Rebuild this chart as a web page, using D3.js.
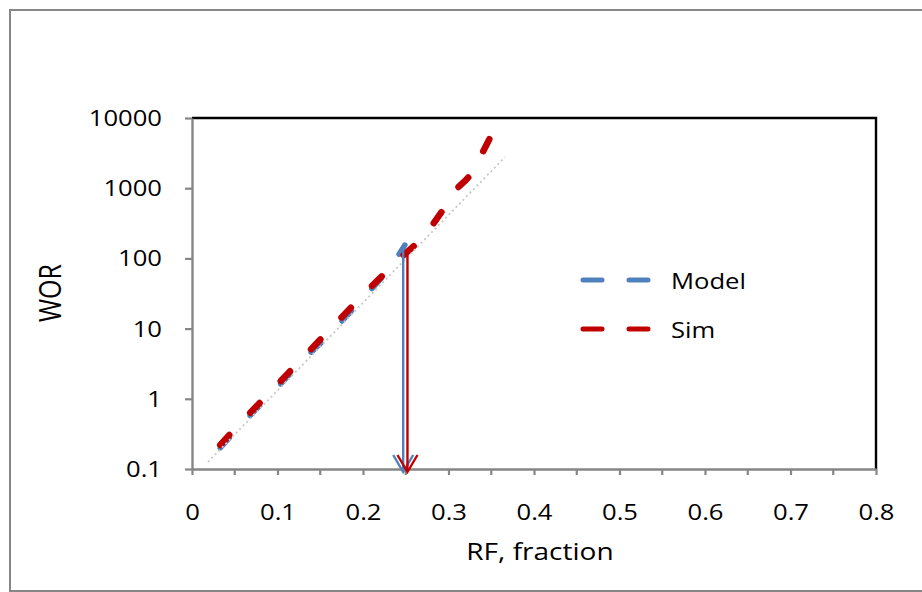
<!DOCTYPE html>
<html>
<head>
<meta charset="utf-8">
<script src="https://cdn.jsdelivr.net/npm/d3@7"></script>
<style>
    body { margin: 0; background: #fff; }
    svg { display: block; font-family: "Open Sans", sans-serif; }
</style>
</head>
<body>
<svg id="chart" width="922" height="592"></svg>
<script>
// WOR vs recovery factor
const modelRF  = [0.033, 0.06, 0.10, 0.13, 0.16, 0.20, 0.23, 0.249];
const modelWOR = [0.2, 0.46, 1.45, 3.6, 8.0, 27, 68, 155];

const simRF  = [0.033, 0.06, 0.10, 0.15, 0.208, 0.246, 0.263, 0.281, 0.294, 0.309, 0.319, 0.327, 0.349];
const simWOR = [0.22, 0.5, 1.6, 7.0, 38, 107, 164, 296, 500, 970, 1260, 1590, 5350];

// dotted trend line end points
const trendRF  = [0.0187, 0.366];
const trendWOR = [0.126, 2770];

// vertical arrows down to the axis
const arrowRF    = [0.247, 0.252];
const arrowTop   = [150, 114];
const arrowColor = ["#4f81bd", "#c00000"];

const xTicks      = [0, 0.1, 0.2, 0.3, 0.4, 0.5, 0.6, 0.7, 0.8];
const xTickLabels = ["0", "0.1", "0.2", "0.3", "0.4", "0.5", "0.6", "0.7", "0.8"];
const xMinor      = [0.05, 0.15, 0.25, 0.35, 0.45, 0.55, 0.65, 0.75];
const yTicks      = [0.1, 1, 10, 100, 1000, 10000];
const yTickLabels = ["0.1", "1", "10", "100", "1000", "10000"];

const legendNames  = ["Model", "Sim"];
const legendColors = ["#4f81bd", "#c00000"];

const plot = { left: 192, right: 876, top: 118, bottom: 469 };
const k = 1.22;   // the original is stretched sideways
const axisGrey = "#868686";

const svg = d3.select("#chart");

svg.append("rect")
    .attr("x", 10).attr("y", 10)
    .attr("width", 940).attr("height", 581)
    .attr("fill", "none")
    .attr("stroke", axisGrey)
    .attr("stroke-width", 2);

const x = d3.scaleLinear().domain([0, 0.8]).range([plot.left, plot.right]);
const y = d3.scaleLog().domain([0.1, 10000]).range([plot.bottom, plot.top]);

// plot area frame (top / right)
svg.append("path")
    .attr("d", `M${plot.left},${plot.top}H${plot.right}V${plot.bottom}`)
    .attr("fill", "none")
    .attr("stroke", "#000")
    .attr("stroke-width", 2.4);

// minor x ticks
svg.append("g").selectAll("line")
    .data(xMinor)
    .join("line")
    .attr("x1", d => x(d)).attr("x2", d => x(d))
    .attr("y1", plot.bottom).attr("y2", plot.bottom + 6)
    .attr("stroke", axisGrey)
    .attr("stroke-width", 2.2);

const xAxis = svg.append("g")
    .attr("transform", `translate(0,${plot.bottom})`)
    .call(d3.axisBottom(x).tickValues(xTicks)
        .tickFormat((d, i) => xTickLabels[i])
        .tickSize(6).tickSizeOuter(0));

const yAxis = svg.append("g")
    .attr("transform", `translate(${plot.left},0)`)
    .call(d3.axisLeft(y).tickValues(yTicks)
        .tickFormat((d, i) => yTickLabels[i])
        .tickSize(7).tickSizeOuter(0));

[xAxis, yAxis].forEach(ax => {
    ax.select(".domain").attr("stroke", axisGrey).attr("stroke-width", 2.4);
    ax.selectAll(".tick line").attr("stroke", axisGrey).attr("stroke-width", 2.2);
    ax.selectAll("text")
        .attr("fill", "#000")
        .attr("font-family", "Open Sans")
        .attr("font-size", 21);
});

xAxis.selectAll("text")
    .attr("y", 51).attr("dy", 0)
    .attr("transform", `scale(${k},1)`);

yAxis.selectAll("text")
    .attr("x", -30 / k).attr("dy", "0.36em")
    .attr("transform", `scale(${k},1)`);

const line = d3.line()
    .x(d => x(d[0]))
    .y(d => y(d[1]));

svg.append("path")
    .datum(d3.zip(modelRF, modelWOR))
    .attr("d", line)
    .attr("fill", "none")
    .attr("stroke", "#4f81bd")
    .attr("stroke-width", 5.5)
    .attr("stroke-linecap", "round")
    .attr("stroke-linejoin", "round")
    .attr("stroke-dasharray", "13.5,30.5");

svg.append("path")
    .datum(d3.zip(simRF, simWOR))
    .attr("d", line)
    .attr("fill", "none")
    .attr("stroke", "#c00000")
    .attr("stroke-width", 6.5)
    .attr("stroke-linecap", "round")
    .attr("stroke-linejoin", "round")
    .attr("stroke-dasharray", "13.5,30.5");

svg.append("path")
    .datum(d3.zip(trendRF, trendWOR))
    .attr("d", line)
    .attr("fill", "none")
    .attr("stroke", "#c8c8c8")
    .attr("stroke-width", 1.8)
    .attr("stroke-dasharray", "2,3");

// arrows
const arrows = svg.append("g").selectAll("g")
    .data(d3.zip(arrowRF, arrowTop, arrowColor))
    .join("g")
    .attr("fill", "none")
    .attr("stroke", d => d[2])
    .attr("stroke-width", 2.4);

arrows.append("line")
    .attr("x1", d => x(d[0])).attr("x2", d => x(d[0]))
    .attr("y1", d => y(d[1]))
    .attr("y2", y(0.1) + 2);

arrows.append("path")
    .attr("d", d => {
        const ax = x(d[0]), tip = y(0.1) + 3;
        return `M${ax - 10},${tip - 17}L${ax},${tip}L${ax + 10},${tip - 17}`;
    });

// legend
const legend = svg.append("g").selectAll("g")
    .data(legendNames)
    .join("g")
    .attr("transform", (d, i) => `translate(583,${280 + i * 49})`);

legend.append("line")
    .attr("x1", 0).attr("x2", 67)
    .attr("stroke", (d, i) => legendColors[i])
    .attr("stroke-width", 5)
    .attr("stroke-linecap", "round")
    .attr("stroke-dasharray", "19,27");

legend.append("text")
    .attr("transform", `translate(88,9) scale(${k},1)`)
    .attr("font-size", 21)
    .text(d => d);

// axis titles
svg.append("text")
    .attr("transform", `translate(540,560) scale(${k},1)`)
    .attr("text-anchor", "middle")
    .attr("font-size", 23)
    .text("RF, fraction");

svg.append("text")
    .attr("transform", `translate(61,293) scale(${k},1) rotate(-90)`)
    .attr("text-anchor", "middle")
    .attr("font-size", 25)
    .text("WOR");
</script>
</body>
</html>
